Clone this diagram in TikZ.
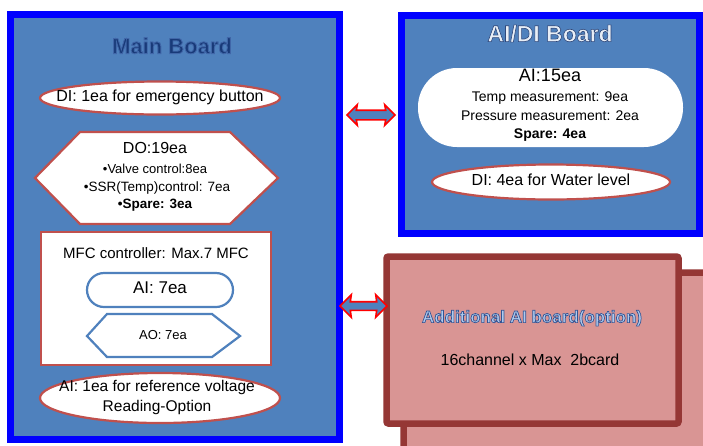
\documentclass[tikz,border=0pt]{standalone}
\usepackage{fontspec}
\setmainfont{Liberation Sans}
\usetikzlibrary{shapes.geometric,shapes.arrows}
\definecolor{boardfill}{RGB}{79,129,189}
\definecolor{boardline}{RGB}{0,0,255}
\definecolor{softred}{RGB}{192,80,77}
\definecolor{pinkfill}{RGB}{217,149,148}
\definecolor{darkred}{RGB}{149,55,53}
\definecolor{ttlMain}{RGB}{24,58,120}
\definecolor{ttlAidi}{RGB}{232,238,246}
\definecolor{ttlAdd}{RGB}{175,203,238}
\newcommand\fs[1]{\fontsize{#1}{#1}\selectfont}
% outlined text: stroke colour (r g b, 0..1), stroke width, text
\newcommand\outlined[3]{\special{pdf:literal direct 2 Tr #2 w #1 RG}#3\special{pdf:literal direct 0 Tr}}
\begin{document}
\begin{tikzpicture}[x=1pt,y=-1pt,
  txt/.style={inner sep=0pt,text height=.72em,text depth=0pt,align=center},
  board/.style={draw=boardline,fill=boardfill,line width=7pt},
  addboard/.style={draw=darkred,fill=pinkfill,line width=6.5pt,rounded corners=2pt},
  redoval/.style={ellipse,draw=softred,fill=white,line width=2.2pt,inner sep=0pt},
  redline/.style={draw=softred,fill=white,line width=2.2pt},
  blueline/.style={draw=boardfill,fill=white,line width=2.2pt},
  link/.style={double arrow,draw=red,fill=boardfill,line width=1.6pt,inner sep=0pt,
    text height=0pt,text depth=0pt,double arrow head indent=1pt}]
\useasboundingbox (0,0) rectangle (703,445);
\clip (0,0) rectangle (703,445);
\fill[white] (0,0) rectangle (703,445);

% ---------- Main board
\draw[board] (10.5,14.5) rectangle (339.5,439.5);
\node[txt,text=ttlMain] (mainttl) at (172,50) {\fs{22}\bfseries\outlined{0.25 0.4 0.66}{0.9}{Main Board}};

\node[redoval,minimum width=240,minimum height=33] (diemg) at (160,98) {};
\node[txt] (diemgt) at (160,98) {\fs{16}DI: 1ea for emergency button};

\draw[redline] (80,132) -- (230,132) -- (278,178) -- (230,224) -- (80,224) -- (35,178) -- cycle;
\node[txt] (do1) at (155,150) {\fs{16}DO:19ea};
\node[txt] (do2) at (155,170) {\fs{13}•Valve control:8ea};
\node[txt] (do3) at (157,188) {\fs{13.5}•SSR(Temp)control: 7ea};
\node[txt] (do4) at (155,205) {\fs{13.5}\bfseries •Spare: 3ea};

\draw[redline] (41,232) rectangle (271,365);
\node[txt] (mfct) at (156,255) {\fs{15}MFC controller: Max.7 MFC};
\draw[blueline,rounded corners=17pt] (87,273) rectangle (233,307);
\node[txt] (ai7) at (160,290) {\fs{17}AI: 7ea};
\draw[blueline] (107,314) -- (212,314) -- (240,336) -- (212,357) -- (107,357) -- (87,336) -- cycle;
\node[txt] (ao7) at (163,336) {\fs{13}AO: 7ea};

\node[redoval,minimum width=240,minimum height=50] (airef) at (160,398) {};
\node[txt] (airef1) at (157,388) {\fs{15.5}AI: 1ea for reference voltage};
\node[txt] (airef2) at (157,408) {\fs{15.5}Reading-Option};

% ---------- AI/DI board
\draw[board] (401.5,15.5) rectangle (699.5,233.5);
\node[txt,text=ttlAidi] (aidittl) at (550,38) {\fs{23}\bfseries\outlined{0.18 0.28 0.48}{0.6}{AI/DI Board}};
\fill[white,rounded corners=39pt] (418,68) rectangle (683,147);
\node[txt] (ai15a) at (550,78) {\fs{18}AI:15ea};
\node[txt] (ai15b) at (550,98) {\fs{14}Temp measurement: 9ea};
\node[txt] (ai15c) at (550,117) {\fs{14}Pressure measurement: 2ea};
\node[txt] (ai15d) at (550,135) {\fs{14}\bfseries Spare: 4ea};
\node[redoval,minimum width=238,minimum height=35] (di4) at (551,182) {};
\node[txt] (di4t) at (551,182) {\fs{16}DI: 4ea for Water level};

% ---------- Additional AI board
\draw[addboard] (403.5,272.5) rectangle (725,470);
\draw[addboard] (386.5,256.5) rectangle (678.5,423.5);
\node[txt,text=ttlAdd] (addttl) at (532,319) {\fs{17}\bfseries\outlined{0.2 0.33 0.58}{0.7}{Additional AI board(option)}};
\node[txt] (addt) at (530,362) {\fs{16}16channel x Max\ \ 2bcard};

% ---------- links
\node[link,minimum height=48,minimum width=19,double arrow head extend=5.5pt,inner ysep=4pt] (lnk1) at (371,115) {};
\node[link,minimum height=47,minimum width=21,double arrow head extend=7pt,inner ysep=3.5pt] (lnk2) at (363.5,306) {};
\end{tikzpicture}
\end{document}
